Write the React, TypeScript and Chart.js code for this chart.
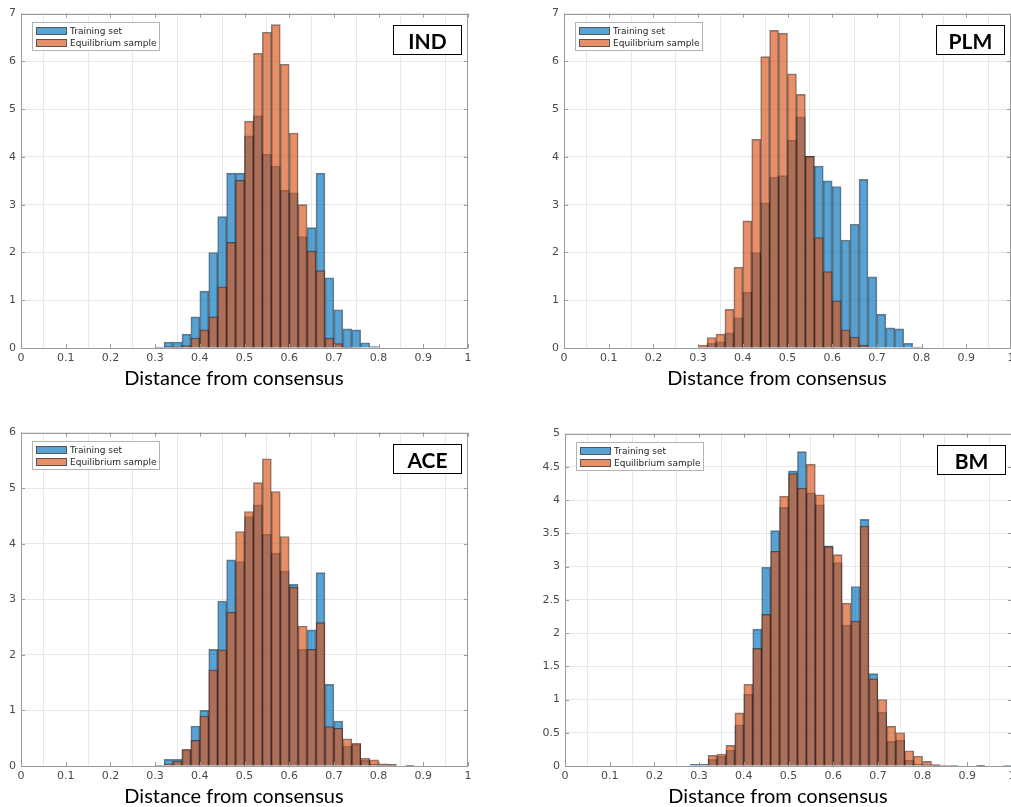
import React, { useEffect, useRef } from "react";
import { Chart, registerables } from "chart.js";

Chart.register(...registerables);

// Left edges of the 0.02-wide histogram bins
const binLefts = [
  0.28, 0.3, 0.32, 0.34, 0.36, 0.38, 0.4, 0.42, 0.44, 0.46, 0.48, 0.5,
  0.52, 0.54, 0.56, 0.58, 0.6, 0.62, 0.64, 0.66, 0.68, 0.7, 0.72, 0.74,
  0.76, 0.78, 0.8, 0.82, 0.84, 0.86, 0.88, 0.9, 0.92, 0.94, 0.96, 0.98,
];
const binWidth = 0.02;

const seriesNames = ["Training set", "Equilibrium sample"];
const xAxisTitle = "Distance from consensus";

// IND
const indTraining = [null, 0.02, 0.125, 0.125, 0.29, 0.65, 1.19, 2.0, 2.75, 3.66, 3.66, 4.44, 4.86, 4.06, 3.81, 3.3, 3.25, 2.33, 2.52, 3.66, 1.47, 0.8, 0.4, 0.38, 0.11, 0.03];
const indEquilibrium = [null, 0, 0.03, 0.02, 0.05, 0.21, 0.38, 0.65, 1.28, 2.21, 3.51, 4.75, 6.17, 6.61, 6.77, 5.94, 4.5, 3.0, 2.03, 1.62, 0.21, 0.09, 0.02, 0.01];

// PLM
const plmTraining = [null, 0.01, 0.1, 0.13, 0.32, 0.63, 1.17, 2.0, 3.04, 3.58, 3.61, 4.35, 4.84, 4.01, 3.81, 3.5, 3.38, 2.26, 2.59, 3.53, 1.49, 0.71, 0.42, 0.4, 0.1, 0.02];
const plmEquilibrium = [null, 0.06, 0.22, 0.29, 0.81, 1.69, 2.66, 4.37, 6.1, 6.65, 6.59, 5.74, 5.31, 4.01, 2.31, 1.6, 0.99, 0.38, 0.23, 0.06, 0.01];

// ACE
const aceTraining = [null, 0.01, 0.12, 0.12, 0.29, 0.72, 1.0, 2.1, 2.97, 3.71, 3.68, 4.49, 4.7, 4.17, 3.83, 3.51, 3.27, 2.1, 2.45, 3.48, 1.47, 0.81, 0.36, 0.39, 0.1, 0.04, 0.02, 0.02, 0, 0.01];
const aceEquilibrium = [null, 0, 0.04, 0.09, 0.3, 0.46, 0.9, 1.73, 2.09, 2.77, 4.22, 4.58, 5.1, 5.53, 4.94, 4.13, 3.22, 2.52, 2.1, 2.58, 0.71, 0.68, 0.49, 0.41, 0.14, 0.11, 0.04, 0.03, 0, 0.01];

// BM
const bmTraining = [0.025, 0.025, 0.1, 0.15, 0.24, 0.62, 1.08, 2.06, 2.99, 3.54, 3.89, 4.44, 4.73, 4.11, 3.93, 3.31, 3.06, 2.12, 2.7, 3.71, 1.39, 0.81, 0.37, 0.39, 0.09, 0.03, 0.02, 0.01, 0, 0.005, 0, 0, 0.005, 0, 0, 0.005];
const bmEquilibrium = [0, 0, 0.16, 0.18, 0.31, 0.8, 1.23, 1.77, 2.28, 3.23, 4.06, 4.4, 4.18, 4.54, 4.08, 3.3, 3.18, 2.45, 2.18, 3.61, 1.31, 1.0, 0.6, 0.5, 0.23, 0.15, 0.07, 0.02, 0.005, 0, 0, 0, 0.01, 0, 0, 0];

const BLUE = "rgba(0,114,189,0.65)";
const ORANGE = "rgba(217,83,25,0.65)";
const BLUE_SOLID = "rgb(89,163,212)";
const ORANGE_SOLID = "rgb(230,143,105)";
const EDGE = "rgba(20,20,20,0.55)";
const GRID = "#e8e8e8";
const FRAME = "#9a9a9a";
const TICK_FONT = { family: "'DejaVu Sans', sans-serif", size: 11 };
const TICK_COLOR = "#4a4a4a";

type PanelCfg = {
  name: string;
  training: (number | null)[];
  equilibrium: (number | null)[];
  yMax: number;
  yStep: number;
  plotLeft: number;
  plotTop: number;
  plotW: number;
  plotH: number;
  yAxisW: number;
};

const panels: PanelCfg[] = [
  { name: "IND", training: indTraining, equilibrium: indEquilibrium, yMax: 7, yStep: 1, plotLeft: 21, plotTop: 12, plotW: 447, plotH: 336, yAxisW: 21 },
  { name: "PLM", training: plmTraining, equilibrium: plmEquilibrium, yMax: 7, yStep: 1, plotLeft: 564, plotTop: 12, plotW: 447, plotH: 336, yAxisW: 30 },
  { name: "ACE", training: aceTraining, equilibrium: aceEquilibrium, yMax: 6, yStep: 1, plotLeft: 21, plotTop: 431, plotW: 447, plotH: 335, yAxisW: 21 },
  { name: "BM", training: bmTraining, equilibrium: bmEquilibrium, yMax: 5, yStep: 0.5, plotLeft: 565, plotTop: 432, plotW: 447, plotH: 334, yAxisW: 30 },
];

const PAD_TOP = 10;
const PAD_RIGHT = 10;
const X_AXIS_H = 22;

const fmt = (v: any) => {
  const n = Number(Number(v).toFixed(2));
  return String(n);
};

const framePlugin = {
  id: "matlabFrame",
  afterDraw(chart: any) {
    const { ctx, chartArea } = chart;
    const { left, top, right, bottom } = chartArea;
    const xs = chart.scales.x;
    const ys = chart.scales.y;
    ctx.save();
    ctx.strokeStyle = FRAME;
    ctx.lineWidth = 1;
    ctx.beginPath();
    const tl = 4;
    xs.ticks.forEach((t: any) => {
      const px = Math.round(xs.getPixelForValue(t.value)) + 0.5;
      ctx.moveTo(px, bottom);
      ctx.lineTo(px, bottom - tl);
      ctx.moveTo(px, top);
      ctx.lineTo(px, top + tl);
    });
    ys.ticks.forEach((t: any) => {
      const py = Math.round(ys.getPixelForValue(t.value)) + 0.5;
      ctx.moveTo(left, py);
      ctx.lineTo(left + tl, py);
      ctx.moveTo(right, py);
      ctx.lineTo(right - tl, py);
    });
    ctx.stroke();
    ctx.strokeRect(Math.round(left) + 0.5, Math.round(top) + 0.5, Math.round(right - left) - 1, Math.round(bottom - top));
    ctx.restore();
  },
};

function toPoints(arr: (number | null)[]) {
  return binLefts.map((l, i) => ({
    x: l + binWidth / 2,
    y: i < arr.length ? arr[i] : null,
  }));
}

function Panel({ cfg }: { cfg: PanelCfg }) {
  const ref = useRef<HTMLCanvasElement | null>(null);
  const cLeft = cfg.plotLeft - cfg.yAxisW;
  const cTop = cfg.plotTop - PAD_TOP;
  const cW = cfg.plotW + cfg.yAxisW + PAD_RIGHT;
  const cH = cfg.plotH + PAD_TOP + X_AXIS_H;

  useEffect(() => {
    if (!ref.current) return;
    const chart = new Chart(ref.current, {
      type: "bar",
      data: {
        datasets: [
          {
            label: seriesNames[1],
            data: toPoints(cfg.equilibrium) as any,
            backgroundColor: ORANGE,
            borderColor: EDGE,
            borderWidth: 1,
            order: 0,
            grouped: false,
            barPercentage: 1,
            categoryPercentage: 1,
          } as any,
          {
            label: seriesNames[0],
            data: toPoints(cfg.training) as any,
            backgroundColor: BLUE,
            borderColor: EDGE,
            borderWidth: 1,
            order: 1,
            grouped: false,
            barPercentage: 1,
            categoryPercentage: 1,
          } as any,
        ],
      },
      options: {
        animation: false,
        responsive: false,
        maintainAspectRatio: false,
        devicePixelRatio: 1,
        layout: { padding: { top: PAD_TOP, right: PAD_RIGHT, left: 0, bottom: 0 } },
        plugins: { legend: { display: false }, tooltip: { enabled: false } },
        scales: {
          x: {
            type: "linear",
            min: 0,
            max: 1,
            offset: false,
            grid: { color: GRID, drawTicks: false },
            border: { display: false },
            ticks: {
              stepSize: 0.1,
              padding: 4,
              font: TICK_FONT,
              color: TICK_COLOR,
              maxRotation: 0,
              autoSkip: false,
              callback: fmt,
            },
            afterFit: (s: any) => {
              s.height = X_AXIS_H;
            },
          },
          y: {
            type: "linear",
            min: 0,
            max: cfg.yMax,
            grid: { color: GRID, drawTicks: false },
            border: { display: false },
            ticks: {
              stepSize: cfg.yStep,
              padding: 5,
              font: TICK_FONT,
              color: TICK_COLOR,
              callback: fmt,
            },
            afterFit: (s: any) => {
              s.width = cfg.yAxisW;
            },
          },
        } as any,
      },
      plugins: [framePlugin],
    });
    return () => chart.destroy();
  }, [cfg]);

  const legendRow = (color: string, text: string, top: number) => (
    <div style={{ position: "absolute", left: 3, top, height: 12, display: "flex", alignItems: "center" }}>
      <div style={{ width: 31, height: 8, background: color, border: "1px solid #555", boxSizing: "border-box" }} />
      <span style={{ marginLeft: 3, whiteSpace: "nowrap" }}>{text}</span>
    </div>
  );

  return (
    <>
      <canvas
        ref={ref}
        width={cW}
        height={cH}
        style={{ position: "absolute", left: cLeft, top: cTop, width: cW, height: cH }}
      />
      <div
        style={{
          position: "absolute",
          left: cfg.plotLeft + 11,
          top: cfg.plotTop + 10,
          width: 128,
          height: 29,
          border: "1px solid #b3b3b3",
          background: "#fff",
          boxSizing: "border-box",
          fontFamily: "'DejaVu Sans', sans-serif",
          fontSize: 9,
          color: "#262626",
        }}
      >
        {legendRow(BLUE_SOLID, seriesNames[0], 1.5)}
        {legendRow(ORANGE_SOLID, seriesNames[1], 14)}
      </div>
      <div
        style={{
          position: "absolute",
          left: cfg.plotLeft + 372,
          top: cfg.plotTop + 13,
          width: 69,
          height: 30,
          border: "1.5px solid #000",
          background: "#fff",
          boxSizing: "border-box",
          display: "flex",
          alignItems: "center",
          justifyContent: "center",
          fontFamily: "Lato, sans-serif",
          fontWeight: 700,
          fontSize: 21,
          color: "#000",
        }}
      >
        {cfg.name}
      </div>
      <div
        style={{
          position: "absolute",
          left: cfg.plotLeft + 213 - 160,
          top: cfg.plotTop + cfg.plotH + 29 - 13,
          width: 320,
          height: 26,
          lineHeight: "26px",
          textAlign: "center",
          fontFamily: "Lato, sans-serif",
          fontSize: 20,
          color: "#000",
          whiteSpace: "nowrap",
        }}
      >
        {xAxisTitle}
      </div>
    </>
  );
}

export default function App() {
  return (
    <div
      style={{
        position: "absolute",
        left: 0,
        top: 0,
        width: 1011,
        height: 807,
        overflow: "hidden",
        background: "#fff",
      }}
    >
      {panels.map((p) => (
        <Panel key={p.name} cfg={p} />
      ))}
    </div>
  );
}
